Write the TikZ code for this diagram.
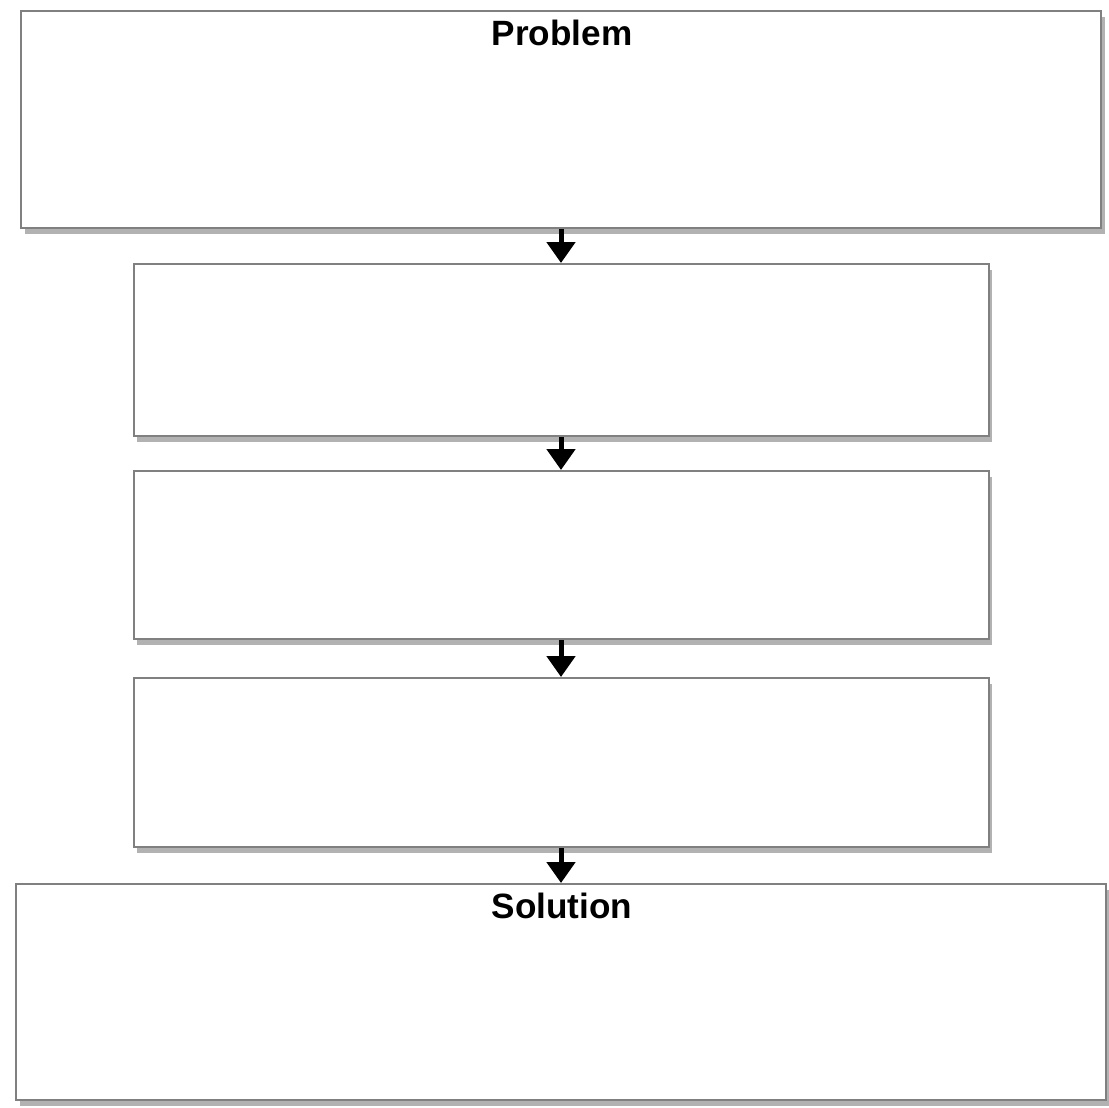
\documentclass[tikz,border=0pt]{standalone}
\usepackage{fontspec}
\setmainfont{Liberation Sans}
\usetikzlibrary{arrows.meta,shadows}
\tikzset{
	stepbox/.style={draw=black!50, line width=0.04cm, fill=white, inner sep=0pt,
		drop shadow={shadow xshift=0.07cm, shadow yshift=-0.12cm, fill=black!55, opacity=0.55}},
	steparrow/.style={line width=0.1cm, -{Triangle[width=0.56cm,length=0.42cm]}},
	boxtitle/.style={font=\fontsize{20}{24}\selectfont\bfseries, inner sep=0pt}
}

\begin{document}
\begin{tikzpicture}
		%%%%% START %%%%%
		
		\useasboundingbox[fill=white] (0, 0) rectangle (22.18, -22.14);
		
		\node[stepbox, minimum width=21.6cm, minimum height=4.34cm] (problem) at (11.22, -2.39) {};
		\node[stepbox, minimum width=17.1cm, minimum height=3.44cm] (stepA) at (11.22, -7.0) {};
		\node[stepbox, minimum width=17.1cm, minimum height=3.36cm] (stepB) at (11.22, -11.1) {};
		\node[stepbox, minimum width=17.1cm, minimum height=3.38cm] (stepC) at (11.22, -15.25) {};
		\node[stepbox, minimum width=21.8cm, minimum height=4.32cm] (solution) at (11.22, -19.84) {};
		
		\node[boxtitle] (problemtitle) at (11.24, -0.65) {Problem};
		\node[boxtitle] (solutiontitle) at (11.24, -18.11) {Solution};
		
		\draw[steparrow] (problem.south) -- (stepA.north);
		\draw[steparrow] (stepA.south) -- (stepB.north);
		\draw[steparrow] (stepB.south) -- (stepC.north);
		\draw[steparrow] (stepC.south) -- (solution.north);
		
		%%%%% END %%%%%
	\end{tikzpicture}
\end{document}
